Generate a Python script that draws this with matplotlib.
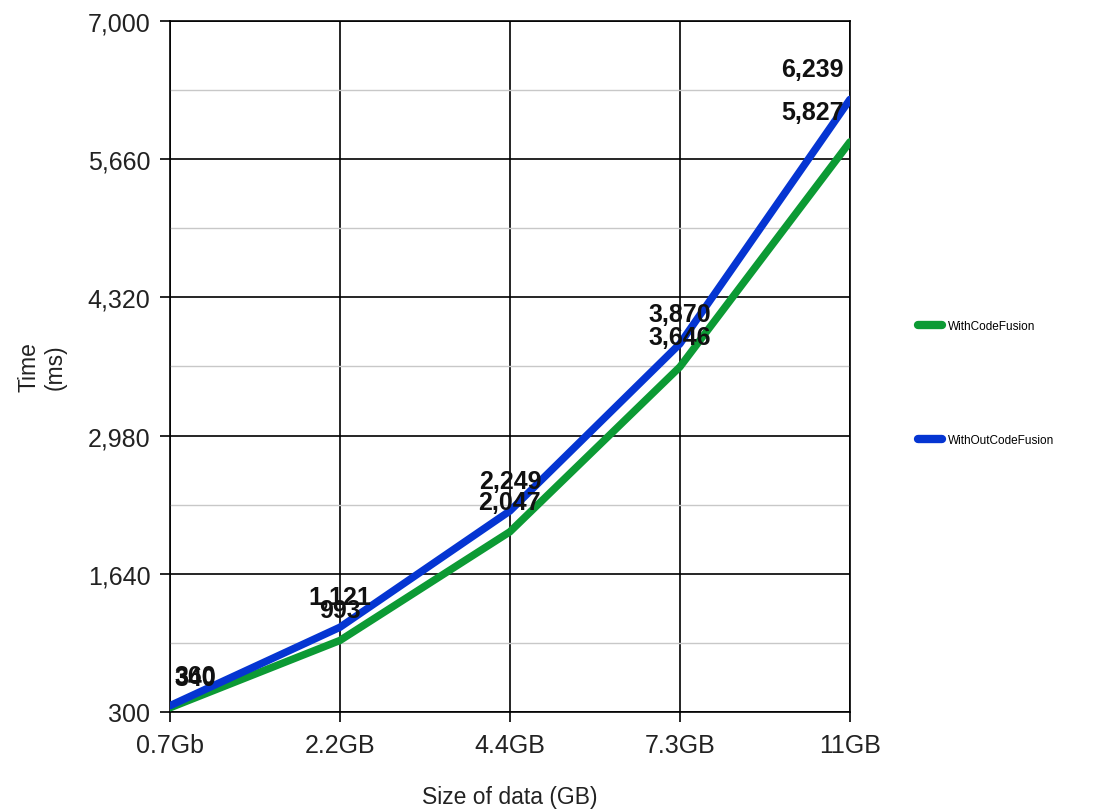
import numpy as np
import matplotlib.pyplot as plt
from matplotlib.ticker import FixedLocator

plt.rcParams['font.family'] = ['Liberation Sans', 'DejaVu Sans']

sizes = ['0.7Gb', '2.2GB', '4.4GB', '7.3GB', '11GB']
with_fusion = [340, 993, 2047, 3646, 5827]
without_fusion = [360, 1121, 2249, 3870, 6239]
y_ticks = [300, 1640, 2980, 4320, 5660, 7000]

green = '#0c9a34'
blue = '#0535d2'

fig = plt.figure(figsize=(10.96, 8.12), dpi=100)
ax = fig.add_axes([0.155, 0.122, 0.6205, 0.851])

x = np.arange(len(sizes))
ax.plot(x, with_fusion, color=green, linewidth=5.4, solid_capstyle='round', label='WithCodeFusion', zorder=3)
ax.plot(x, without_fusion, color=blue, linewidth=5.4, solid_capstyle='round', label='WithOutCodeFusion', zorder=4)

# value labels above points
for vals in (without_fusion, with_fusion):
    for i, v in enumerate(vals):
        if i == 0:
            ha, dx = 'left', 5
        elif i == len(vals) - 1:
            ha, dx = 'right', -6
        else:
            ha, dx = 'center', 0
        ax.annotate(f'{v:,}', (i, v), xytext=(dx, 30), textcoords='offset pixels',
                    ha=ha, va='center', fontsize=18, fontweight='bold', color='#111111', zorder=5)

ax.set_xlim(0, len(sizes) - 1)
ax.set_ylim(300, 7000)
ax.set_xticks(x)
ax.set_xticklabels(sizes)
ax.yaxis.set_major_locator(FixedLocator(y_ticks))
ax.yaxis.set_minor_locator(FixedLocator([t + 670 for t in y_ticks[:-1]]))
ax.set_yticklabels([f'{t:,}' for t in y_ticks])

ax.grid(True, which='major', color='black', linewidth=1.2)
ax.grid(True, which='minor', axis='y', color='#c8c8c8', linewidth=1)
ax.tick_params(axis='y', which='minor', length=0)
ax.tick_params(which='major', direction='out', length=7, width=1.2, labelsize=18, color='black',
               labelcolor='#222222')
ax.tick_params(axis='x', pad=8)
ax.tick_params(axis='y', pad=7)
for s in ax.spines.values():
    s.set_color('black')
    s.set_linewidth(1.2)

ax.set_xlabel('Size of data (GB)', fontsize=16.5, labelpad=20, color='#222222')
ax.set_ylabel('Time\n(ms)', fontsize=16.5, labelpad=15, color='#222222')

ax.legend(loc='upper left', bbox_to_anchor=(1.085, 0.582), frameon=False, fontsize=8.5,
          handlelength=2.0, labelspacing=8.6, handletextpad=0.5)
for h in ax.get_legend().get_lines():
    h.set_linewidth(6)

plt.savefig('out.png', dpi=100)
